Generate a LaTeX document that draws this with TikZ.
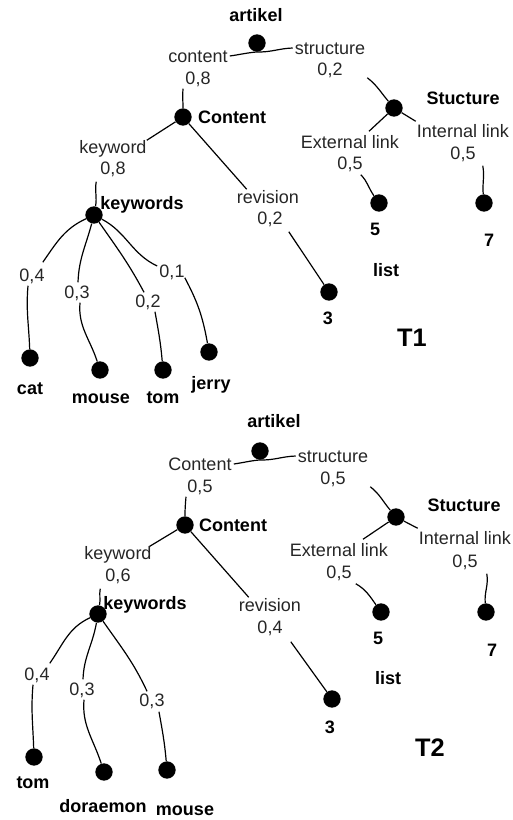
\documentclass[tikz,border=0pt]{standalone}
\usepackage{fontspec}
\setmainfont{Liberation Sans}
\usetikzlibrary{calc}
\tikzset{
  dot/.style={circle,fill=black,inner sep=0pt,minimum size=13pt},
  lbl/.style={inner sep=1.5pt,text height=9.7pt,text depth=0pt,text=black!85,
    font=\fontsize{13.5}{14}\selectfont},
  blbl/.style={lbl,text=black,font=\fontsize{13.5}{14}\selectfont\bfseries},
  big/.style={inner sep=1.5pt,font=\fontsize{19}{20}\selectfont\bfseries},
  edge/.style={draw=black,line width=0.9pt},
}
\begin{document}
\begin{tikzpicture}[x=0.75pt,y=-0.75pt]
\useasboundingbox (0,0) rectangle (513,820);
% ================= T1 =================
\node[blbl] (a1) at (256,15) {artikel};
\node[dot] (r1) at (257,43) {};
\node[lbl] (cl1) at (198,56) {content};
\node[lbl] (cw1) at (198,78) {0,8};
\node[lbl] (sl1) at (330,48) {structure};
\node[lbl] (sw1) at (330,69) {0,2};
\node[dot] (s1) at (394,108) {};
\node[blbl] (sb1) at (463,98) {Stucture};
\node[lbl] (el1) at (350,142) {External link};
\node[lbl] (ew1) at (350,163) {0,5};
\node[lbl] (il1) at (463,131) {Internal link};
\node[lbl] (iw1) at (463,153) {0,5};
\node[dot] (d51) at (379,203) {};
\node[blbl] (n51) at (375,229) {5};
\node[dot] (d71) at (484,203) {};
\node[blbl] (n71) at (489,240) {7};
\node[blbl] (list1) at (386,270) {list};
\node[dot] (c1) at (183,117) {};
\node[blbl] (cb1) at (232,117) {Content};
\node[lbl] (kl1) at (113,147) {keyword};
\node[lbl] (kw1) at (113,168) {0,8};
\node[lbl] (rl1) at (268,197) {revision};
\node[lbl] (rw1) at (270,218) {0,2};
\node[dot] (d31) at (329,292) {};
\node[blbl] (n31) at (328,318) {3};
\node[big] (t1) at (412,338) {T1};
\node[dot] (k1) at (94,215) {};
\node[blbl] (kb1) at (142,203) {keywords};
\node[lbl] (wcat) at (32,275) {0,4};
\node[dot] (dcat) at (30,358) {};
\node[blbl] (ncat) at (30,388) {cat};
\node[lbl] (wmouse) at (77,292) {0,3};
\node[dot] (dmouse) at (100,370) {};
\node[blbl] (nmouse) at (101,397) {mouse};
\node[lbl] (wtom) at (148,301) {0,2};
\node[dot] (dtom) at (163,370) {};
\node[blbl] (ntom) at (163,397) {tom};
\node[lbl] (wjerry) at (172,271) {0,1};
\node[dot] (djerry) at (209,352) {};
\node[blbl] (njerry) at (211,383) {jerry};

\draw[edge] (cl1.east) to[out=8,in=185] (r1.south) to[out=-2,in=182] (sl1.west);
\draw[edge] (sl1.east |- sw1.south) to[out=-38,in=130] (s1);
\draw[edge] (s1) -- ($(el1.north)+(19,-2)$);
\draw[edge] (s1) -- ($(il1.north west)+(1,-1)$);
\draw[edge] ($(ew1.south east)+(-4,3)$) to[out=-45,in=125] (d51);
\draw[edge] ($(iw1.south east)+(5,4)$) to[out=-80,in=95] (d71);
\draw[edge] ($(cw1.south -| c1)+(0,2)$) to[out=-95,in=90] (c1);
\draw[edge] (c1) -- ($(kl1.north east)+(-2,2)$);
\draw[edge] (c1) -- ($(rl1.north west)+(12,1)$);
\draw[edge] ($(rw1.south east)+(4,5)$) -- (d31);
\draw[edge] ($(kw1.south west)+(-2,5)$) to[out=-100,in=80] (k1);
\draw[edge] (k1) to[out=205,in=55] ($(wcat.north east)+(-4,-4)$);
\draw[edge] ($(wcat.south)+(-4,2)$) to[out=-95,in=92] (dcat);
\draw[edge] (k1) to[out=-105,in=88] ($(wmouse.north)+(1,-1)$);
\draw[edge] ($(wmouse.south)+(3,2)$) to[out=-95,in=108] (dmouse);
\draw[edge] (k1) to[out=-55,in=118] ($(wtom.north)+(-4,0)$);
\draw[edge] ($(wtom.south)+(7,2)$) to[out=-80,in=95] (dtom);
\draw[edge] (k1) to[out=-28,in=155] ($(wjerry.west)+(0,-5)$);
\draw[edge] ($(wjerry.south east)+(-2,-2)$) to[out=-62,in=100] (djerry);

% ================= T2 =================
\node[blbl] (a2) at (274,421) {artikel};
\node[dot] (r2) at (260,451) {};
\node[lbl] (cl2) at (200,464) {Content};
\node[lbl] (cw2) at (200,486) {0,5};
\node[lbl] (sl2) at (333,456) {structure};
\node[lbl] (sw2) at (333,478) {0,5};
\node[dot] (s2) at (396,517) {};
\node[blbl] (sb2) at (464,505) {Stucture};
\node[lbl] (el2) at (339,550) {External link};
\node[lbl] (ew2) at (339,572) {0,5};
\node[lbl] (il2) at (465,538) {Internal link};
\node[lbl] (iw2) at (465,561) {0,5};
\node[dot] (d52) at (381,612) {};
\node[blbl] (n52) at (378,638) {5};
\node[dot] (d72) at (486,612) {};
\node[blbl] (n72) at (492,650) {7};
\node[blbl] (list2) at (388,678) {list};
\node[dot] (c2) at (185,525) {};
\node[blbl] (cb2) at (233,525) {Content};
\node[lbl] (kl2) at (118,553) {keyword};
\node[lbl] (kw2) at (118,575) {0,6};
\node[lbl] (rl2) at (270,605) {revision};
\node[lbl] (rw2) at (270,627) {0,4};
\node[dot] (d32) at (332,699) {};
\node[blbl] (n32) at (330,727) {3};
\node[big] (t2) at (430,748) {T2};
\node[dot] (k2) at (98,614) {};
\node[blbl] (kb2) at (145,603) {keywords};
\node[lbl] (w2tom) at (37,674) {0,4};
\node[dot] (d2tom) at (34,757) {};
\node[blbl] (n2tom) at (33,782) {tom};
\node[lbl] (w2dor) at (82,689) {0,3};
\node[dot] (d2dor) at (104,772) {};
\node[blbl] (n2dor) at (103,806) {doraemon};
\node[lbl] (w2mou) at (152,700) {0,3};
\node[dot] (d2mou) at (167,770) {};
\node[blbl] (n2mou) at (185,809) {mouse};

\draw[edge] (cl2.east) to[out=8,in=185] (r2.south) to[out=-2,in=182] (sl2.west);
\draw[edge] (sl2.east |- sw2.south) to[out=-38,in=130] (s2);
\draw[edge] (s2) -- ($(el2.north)+(24,-2)$);
\draw[edge] (s2) -- ($(il2.north west)+(1,-1)$);
\draw[edge] ($(ew2.south east)+(2,3)$) to[out=-30,in=125] (d52);
\draw[edge] ($(iw2.south east)+(7,4)$) to[out=-80,in=95] (d72);
\draw[edge] ($(cw2.south -| c2)+(1,2)$) to[out=-95,in=90] (c2);
\draw[edge] (c2) -- ($(kl2.north east)+(-4,2)$);
\draw[edge] (c2) -- ($(rl2.north west)+(12,1)$);
\draw[edge] ($(rw2.south east)+(6,6)$) -- (d32);
\draw[edge] ($(kw2.south west)+(-3,5)$) to[out=-100,in=80] (k2);
\draw[edge] (k2) to[out=205,in=55] ($(w2tom.north east)+(-2,-2)$);
\draw[edge] ($(w2tom.south)+(-4,2)$) to[out=-95,in=92] (d2tom);
\draw[edge] (k2) to[out=-100,in=88] ($(w2dor.north)+(1,-1)$);
\draw[edge] ($(w2dor.south)+(2,2)$) to[out=-95,in=108] (d2dor);
\draw[edge] (k2) to[out=-55,in=115] ($(w2mou.north)+(-5,0)$);
\draw[edge] ($(w2mou.south)+(7,3)$) to[out=-80,in=95] (d2mou);
\end{tikzpicture}
\end{document}
